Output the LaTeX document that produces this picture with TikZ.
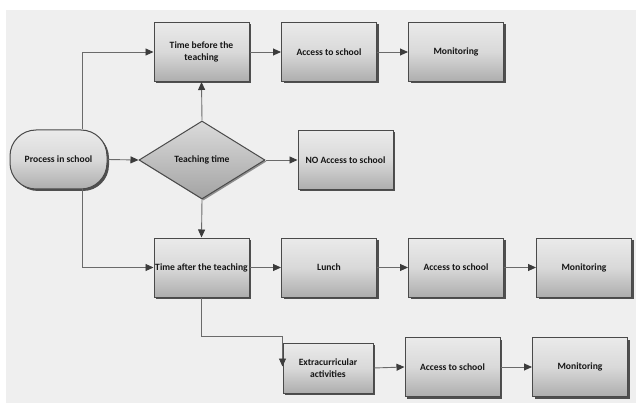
\documentclass[tikz,border=0pt]{standalone}
\usepackage{fontspec}
\setmainfont{Carlito}
\usetikzlibrary{arrows.meta,shapes.geometric,shadows,calc}
\definecolor{canvas}{HTML}{EFEFEF}
\definecolor{edge}{HTML}{4A4A4A}
\definecolor{wire}{HTML}{6A6A6A}
\definecolor{tip}{HTML}{3C3C3C}
\definecolor{ink}{HTML}{151515}
\tikzset{
  label font/.style={font=\bfseries\fontsize{9.6}{12}\selectfont},
  box/.style={draw=edge, line width=1pt, top color=white!92!black, bottom color=black!32,
    middle color=black!15,
    drop shadow={shadow xshift=2pt, shadow yshift=-2pt, fill=black!80, opacity=0.85},
    minimum width=95pt, minimum height=59pt, inner sep=1pt,
    align=center, text=ink, label font},
  pill/.style={box, rounded corners=26pt},
  decision/.style={diamond, draw=edge, line width=1pt, top color=black!14, bottom color=black!36,
    drop shadow={shadow xshift=1.5pt, shadow yshift=-1.5pt, fill=black!60, opacity=0.7},
    minimum width=126pt, minimum height=78pt, inner sep=0pt, aspect=1.6,
    text=ink, label font},
  link/.style={draw=wire, line width=0.9pt, -{Triangle[length=8pt,width=7pt,color=tip]}},
}
\begin{document}
\begin{tikzpicture}[x=1pt,y=-1pt]
  \useasboundingbox (0,0) rectangle (636,403);
  \fill[canvas] (6,10) rectangle (636,403);

  % upper branch
  \node[box] (tb) at (201.5,52) {Time before the\\teaching};
  \node[box] (a1) at (329,52) {Access to school};
  \node[box] (m1) at (456,52) {Monitoring};

  % start and decision
  \node[pill, minimum width=97pt] (ps) at (58.5,159.5) {Process in school};
  \node[decision] (tt) at (202,160) {Teaching time};
  \node[box] (na) at (345.5,160) {NO Access to school};

  % middle branch
  \node[box] (ta) at (201.5,267.5) {Time after the teaching};
  \node[box] (lu) at (329,267.5) {Lunch};
  \node[box] (a2) at (456,267.5) {Access to school};
  \node[box] (m2) at (584,267.5) {Monitoring};

  % lower branch
  \node[box, minimum width=90pt, minimum height=50pt] (ex) at (328,368) {Extracurricular\\activities};
  \node[box] (a3) at (452.5,367) {Access to school};
  \node[box] (m3) at (580,367) {Monitoring};

  \coordinate (exbend) at (ex.north west |- 0,336);
  \coordinate (exin) at ($(ex.north west)+(0,24)$);

  % connectors
  \draw[link] ($(ps.north)+(24,0)$) |- (tb.west);
  \draw[link] (ps.east) -- (tt.west);
  \draw[link] ($(ps.south)+(24,0)$) |- (ta.west);
  \draw[link] (tt.north) -- (tb.south);
  \draw[link] (tt.east) -- (na.west);
  \draw[link] (tt.south) -- (ta.north);
  \draw[link] (tb.east) -- (a1.west);
  \draw[link] (a1.east) -- (m1.west);
  \draw[link] (ta.east) -- (lu.west);
  \draw[link] (lu.east) -- (a2.west);
  \draw[link] (a2.east) -- (m2.west);
  \draw[link] (ta.south) |- (exbend) -- (exin);
  \draw[link] (ex.east) -- (a3.west);
  \draw[link] (a3.east) -- (m3.west);
\end{tikzpicture}
\end{document}
